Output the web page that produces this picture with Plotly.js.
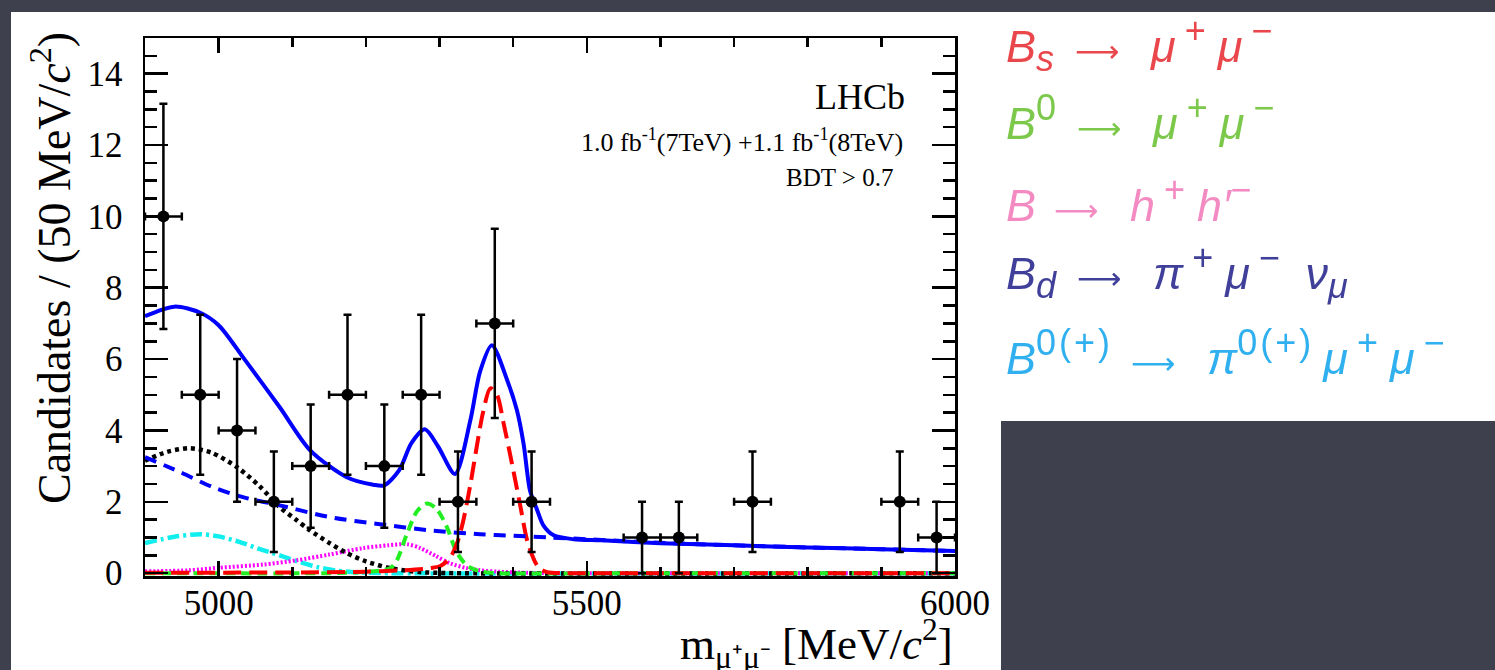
<!DOCTYPE html>
<html>
<head>
<meta charset="utf-8">
<script src="https://cdn.plot.ly/plotly-3.0.1.min.js"></script>
<style>
  html, body { margin: 0; padding: 0; background: #3e414d; }
  #chart { width: 1495px; height: 670px; }
  g.annotation.legend-row text { filter: blur(0.7px); }
</style>
</head>
<body>
<div id="chart"></div>
<script>
// Dimuon invariant mass, 50 MeV/c^2 bins (empty bins not drawn)
const binCenters = [4925, 4975, 5025, 5075, 5125, 5175, 5225, 5275, 5325, 5375, 5425, 5575, 5625, 5725, 5925, 5975];
const counts     = [10, 5, 4, 2, 3, 5, 3, 5, 2, 7, 2, 1, 1, 2, 2, 1];
const countErr   = [3.16, 2.24, 2.0, 1.41, 1.73, 2.24, 1.73, 2.24, 1.41, 2.65, 1.41, 1.0, 1.0, 1.41, 1.41, 1.0];
const binHalfWidth = 25;

// Total fit
const totalX = [4900, 4940, 4975, 5000, 5036, 5083, 5124, 5174, 5210, 5225, 5245, 5262, 5280, 5298, 5321, 5342, 5355, 5371, 5392, 5405, 5414, 5423, 5432, 5441, 5455, 5482, 5520, 5600, 5700, 5800, 5900, 6000];
const totalY = [7.2, 7.47, 7.3, 6.95, 5.97, 4.65, 3.45, 2.69, 2.48, 2.46, 2.88, 3.65, 4.03, 3.55, 2.78, 4.3, 5.65, 6.39, 5.4, 4.57, 3.64, 2.3, 1.8, 1.34, 1.06, 0.95, 0.92, 0.84, 0.78, 0.72, 0.67, 0.62];

// Combinatorial background
const combX = [4900, 4948, 4992, 5033, 5083, 5151, 5219, 5287, 5355, 5400, 5450, 5500, 5600, 5700, 5800, 5900, 6000];
const combY = [3.25, 2.83, 2.41, 2.13, 1.9, 1.57, 1.37, 1.2, 1.09, 1.05, 1.0, 0.95, 0.85, 0.78, 0.72, 0.67, 0.62];

// Bs -> mu+ mu-
const bsX = [4900, 5100, 5200, 5250, 5287, 5301, 5314, 5324, 5332, 5342, 5351, 5359, 5369, 5378, 5387, 5399, 5410, 5420, 5434, 5446, 5470, 5600, 6000];
const bsY = [0.01, 0.02, 0.04, 0.08, 0.14, 0.2, 0.42, 0.85, 1.45, 2.5, 3.6, 4.5, 5.18, 5.0, 4.2, 3.0, 1.85, 0.84, 0.17, 0.03, 0.0, 0.0, 0.0];

// B0 -> mu+ mu-
const bdX = [4900, 5150, 5196, 5233, 5242, 5256, 5270, 5283, 5296, 5310, 5323, 5337, 5355, 5380, 5600, 6000];
const bdY = [0.0, 0.0, 0.03, 0.14, 0.36, 1.12, 1.75, 1.95, 1.8, 1.29, 0.6, 0.22, 0.05, 0.0, 0.0, 0.0];

// B -> h+ h'-
const hhX = [4900, 4960, 5000, 5060, 5106, 5150, 5196, 5230, 5256, 5274, 5295, 5314, 5335, 5355, 5380, 5420, 5460, 6000];
const hhY = [0.05, 0.08, 0.15, 0.24, 0.36, 0.52, 0.7, 0.78, 0.81, 0.7, 0.48, 0.28, 0.15, 0.08, 0.04, 0.01, 0.0, 0.0];

// B -> pi mu nu
const pimunuX = [4900, 4930, 4961, 4990, 5025, 5055, 5083, 5105, 5124, 5150, 5174, 5200, 5233, 5274, 5320, 6000];
const pimunuY = [3.15, 3.4, 3.5, 3.38, 2.97, 2.45, 1.85, 1.5, 1.2, 0.85, 0.56, 0.33, 0.14, 0.03, 0.0, 0.0];

// B0(+) -> pi0(+) mu+ mu-
const pimumuX = [4900, 4940, 4975, 5000, 5029, 5055, 5083, 5110, 5134, 5160, 5190, 5230, 6000];
const pimumuY = [0.84, 1.02, 1.09, 1.03, 0.87, 0.68, 0.5, 0.31, 0.17, 0.07, 0.02, 0.0, 0.0];

// legend lines drawn as coloured text
const sp = s => '<span style="font-size:36px;letter-spacing:3px">' + s + '</span>';
const arrow = '\u2009\u2009<span style="font-family:DejaVu Sans;font-size:31px">\u27F6</span>\u2002\u2009';
const th = '\u2009';
const mu = '<i>μ</i>';
const muPair = mu + th + '<sup>' + sp('+') + '</sup>' + th + mu + th + '<sup>' + sp('−') + '</sup>';
const legendRows = [
  '<i>B<sub>' + sp('s') + '</sub></i>' + arrow + muPair,
  '<i>B</i><sup>' + sp('0') + '</sup>' + arrow + muPair,
  '<i>B</i>' + arrow + '<i>h</i>' + th + '<sup>' + sp('+') + '</sup>' + th + '<i>h′</i>' + '<sup>' + sp('−') + '</sup>',
  '<i>B<sub>' + sp('d') + '</sub></i>' + arrow + '<i>π</i>' + th + '<sup>' + sp('+') + '</sup>' + th + mu + th + '<sup>' + sp('−') + '</sup>\u2002<i>ν<sub>' + sp('μ') + '</sub></i>',
  '<i>B</i><sup>' + sp('0(+)') + '</sup>' + arrow + '<i>π</i><sup>' + sp('0(+)') + '</sup>' + th + muPair
];
const legendColors = ['#e9474c', '#7bc84a', '#f38bc2', '#40409a', '#30b0ee'];

// plot-area geometry (pixels)
const L = 145, R = 955, T = 38, B = 576, W = 1495, H = 670;
const px = v => (v - L) / (R - L);
const py = v => (B - v) / (B - T);

function curve(x, y, color, dash, width) {
  return {
    type: 'scatter', mode: 'lines', x: x, y: y, hoverinfo: 'skip',
    line: { color: color, width: width, dash: dash, shape: 'spline', smoothing: 0.8 }
  };
}

const traces = [
  curve(pimumuX, pimumuY, '#11eeee', '12px,4px,3px,4px', 4.5),
  curve(hhX, hhY, '#ff00ff', '2px,2px', 4),
  curve(pimunuX, pimunuY, '#000000', '4px,4px', 4.5),
  curve(bdX, bdY, '#22ee22', '10px,6px', 4),
  curve(bsX, bsY, '#ff0000', '18px,8px', 4),
  curve(combX, combY, '#0000ff', '12px,8px', 4),
  curve(totalX, totalY, '#0000ff', 'solid', 4),
  {
    type: 'scatter', mode: 'markers', x: binCenters, y: counts,
    marker: { color: '#000000', size: 12 },
    error_y: { type: 'data', array: countErr, arrayminus: countErr, color: '#000000', thickness: 2.5, width: 4 },
    error_x: { type: 'constant', value: binHalfWidth, color: '#000000', thickness: 2.5, width: 4 },
    hoverinfo: 'x+y'
  }
];

const serif = 'Liberation Serif, Times New Roman, serif';

const annotations = [
  { text: 'LHCb', x: px(907), y: py(97), xanchor: 'right', yanchor: 'middle', font: { family: serif, size: 36, color: '#000' } },
  { text: '1.0 fb<sup>-1</sup>(7TeV) +1.1 fb<sup>-1</sup>(8TeV)', x: px(905), y: py(140), xanchor: 'right', yanchor: 'middle', font: { family: serif, size: 26, color: '#000' } },
  { text: 'BDT > 0.7', x: px(895), y: py(178), xanchor: 'right', yanchor: 'middle', font: { family: serif, size: 25, color: '#000' } },
  { text: 'Candidates / (50 MeV/<i>c</i><sup>2</sup>)', x: px(51), y: py(268), xanchor: 'center', yanchor: 'middle', textangle: -90, font: { family: serif, size: 46, color: '#000' } },
  { text: 'm<sub>μ⁺μ⁻</sub> [MeV/<i>c</i><sup>2</sup>]', x: px(955), y: py(643), xanchor: 'right', yanchor: 'middle', font: { family: serif, size: 45, color: '#000' } }
];
const rowY = [44, 118, 200, 271, 353];
legendRows.forEach((t, i) => {
  annotations.push({
    text: t, x: px(1004), y: py(rowY[i]), xanchor: 'left', yanchor: 'middle',
    font: { family: 'Liberation Sans, Arial, sans-serif', size: 45, color: legendColors[i] }
  });
});
annotations.forEach(a => { a.xref = 'paper'; a.yref = 'paper'; a.showarrow = false; });

const shapes = [
  { type: 'rect', xref: 'paper', yref: 'paper', layer: 'below', x0: px(11), x1: px(W), y0: py(H), y1: py(12), fillcolor: '#ffffff', line: { width: 0 } },
  { type: 'rect', xref: 'paper', yref: 'paper', layer: 'below', x0: px(1001), x1: px(W), y0: py(H), y1: py(421), fillcolor: '#3e414d', line: { width: 0 } }
];

const axisCommon = {
  showgrid: false, zeroline: false, showline: true, linecolor: '#000', linewidth: 2.5,
  mirror: 'ticks', ticks: 'inside', tickcolor: '#000', tickwidth: 2.5,
  tickfont: { family: serif, size: 35, color: '#000' }
};

const layout = {
  width: W, height: H,
  margin: { l: L, r: W - R, t: T, b: H - B, pad: 0 },
  paper_bgcolor: '#3e414d', plot_bgcolor: '#ffffff',
  showlegend: false,
  xaxis: Object.assign({}, axisCommon, {
    range: [4900, 6000], tickvals: [5000, 5500, 6000], ticklen: 15, ticklabelstandoff: -6,
    minor: { ticks: 'inside', dtick: 100, ticklen: 9, tickwidth: 2.5, tickcolor: '#000', showgrid: false }
  }),
  yaxis: Object.assign({}, axisCommon, {
    range: [-0.08, 15], tickvals: [0, 2, 4, 6, 8, 10, 12, 14], ticklen: 23, ticklabelstandoff: 13,
    minor: { ticks: 'inside', tick0: 0, dtick: 0.5, ticklen: 12, tickwidth: 2.5, tickcolor: '#000', showgrid: false }
  }),
  annotations: annotations,
  shapes: shapes
};

Plotly.newPlot('chart', traces, layout, { displayModeBar: false, staticPlot: true }).then(() => {
  document.querySelectorAll('g.annotation').forEach(g => {
    const idx = +g.getAttribute('data-index');
    if (idx >= 5) g.classList.add('legend-row');
  });
});
</script>
</body>
</html>
